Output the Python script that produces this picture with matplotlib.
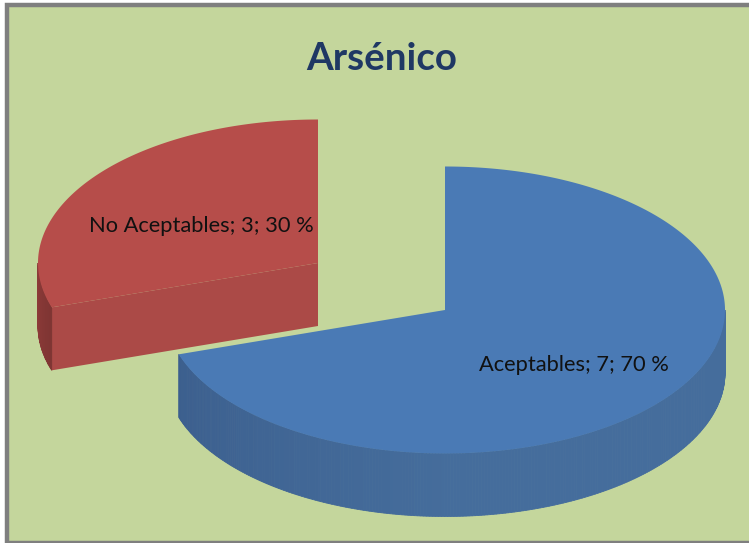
import numpy as np
import matplotlib
matplotlib.use("Agg")
import matplotlib.pyplot as plt
from matplotlib.patches import Polygon, Rectangle
from matplotlib.colors import to_rgb

title = "Arsénico"
categories = ["Aceptables", "No Aceptables"]
values = [7, 3]
percents = [70, 30]
colors_top = ["#4A7AB5", "#B64D4A"]
colors_side_light = ["#456D9C", "#AB4A47"]
colors_side_dark = ["#3C5F8E", "#7F3533"]

W, H = 749, 543
fig = plt.figure(figsize=(W / 100, H / 100), dpi=100, facecolor="white")
ax = fig.add_axes([0, 0, 1, 1])
ax.set_xlim(0, W)
ax.set_ylim(H, 0)
ax.axis("off")

# frame
ax.add_patch(Rectangle((7, 5), W + 20, 538, fc="#C4D69C", ec="#7F7F7F", lw=3.2))

RX, RY, DEPTH = 280, 143.5, 63
CENTERS = [(445, 310), (318, 263)]
total = sum(values)
fracs = [v / total for v in values]
start = 90.0
angles = []
for f in fracs:
    end = start - 360 * f
    angles.append((start, end))
    start = end


def rim(c, a):
    t = np.radians(a)
    return c[0] + RX * np.cos(t), c[1] - RY * np.sin(t)


def mix(a, b, t):
    a, b = np.array(to_rgb(a)), np.array(to_rgb(b))
    return tuple(a + (b - a) * t)


for i in (1, 0):
    c = CENTERS[i]
    a0, a1 = angles[i]
    if i == 1:
        # cut face towards the viewer
        p = rim(c, a0)
        ax.add_patch(Polygon([c, p, (p[0], p[1] + DEPTH), (c[0], c[1] + DEPTH)],
                             fc=colors_side_light[i], ec="none", zorder=2))
        # outer wall on the left of the slice
        th = np.linspace(a0, -180, 30)
    else:
        th = np.linspace(a1, 0, 260)
    # outer wall, shaded strip by strip
    for k in range(len(th) - 1):
        x0, y0 = rim(c, th[k])
        x1, y1 = rim(c, th[k + 1])
        u = k / (len(th) - 2)
        if i == 0:
            col = mix(colors_side_dark[0], colors_side_light[0], min(u * 2.2, 1))
        else:
            col = mix(colors_side_dark[1], "#8C3A38", u)
        ax.add_patch(Polygon([(x0, y0), (x1, y1), (x1, y1 + DEPTH), (x0, y0 + DEPTH)],
                             fc=col, ec=col, lw=0.6, zorder=3))
    # top face
    th = np.linspace(a0, a1, 400)
    pts = [c] + [rim(c, a) for a in th]
    ax.add_patch(Polygon(pts, fc=colors_top[i], ec="none", zorder=4))

# title and data labels
ax.text(382, 59, title, ha="center", va="center", fontsize=27.7, fontweight="bold",
        color="#1F3864", family="Lato", zorder=6)
label_pos = [(574, 365), (201, 226)]
for name, v, pct, (x, y) in zip(categories, values, percents, label_pos):
    ax.text(x, y, f"{name}; {v}; {pct} %", ha="center", va="center", fontsize=15.75,
            color="#111111", family="Lato", zorder=6)

fig.savefig("out.png", dpi=100, facecolor="white")
